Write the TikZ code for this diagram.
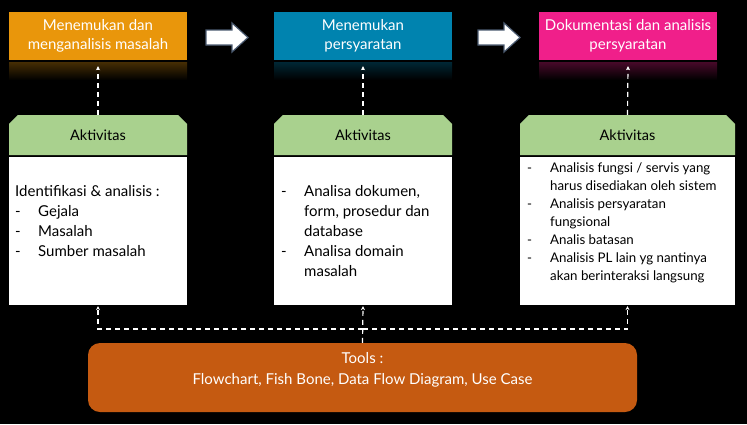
\documentclass[tikz,border=0pt]{standalone}
\usepackage{fontspec}
\setmainfont{Lato}
\usetikzlibrary{shapes.misc,arrows.meta}
\definecolor{cOrange}{HTML}{E9960B}
\definecolor{cBlue}{HTML}{0083AF}
\definecolor{cPink}{HTML}{F01F8A}
\definecolor{cGreen}{HTML}{A9D18E}
\definecolor{cTools}{HTML}{C55A11}
\definecolor{cArrowEdge}{HTML}{4A5A70}
\begin{document}
\begin{tikzpicture}[x=1pt,y=-1pt,
  topbox/.style={rectangle, minimum width=178pt, minimum height=48pt, inner sep=0pt,
    align=center, text=white, font=\fontsize{15}{18.5}\selectfont},
  acthead/.style={chamfered rectangle, chamfered rectangle corners={north west,north east},
    chamfered rectangle xsep=8pt, fill=cGreen, draw=none, inner sep=0pt,
    minimum height=40pt, font=\fontsize{14.5}{16}\selectfont, text=black},
  actbody/.style={rectangle, fill=white, draw=none, inner sep=0pt, minimum height=148pt},
  bodytext/.style={anchor=base west, inner sep=0pt, text=black, align=left},
  dasharrow/.style={draw=white, line width=1.2pt, dash pattern=on 5pt off 4pt,
    -{Stealth[length=4pt,width=4pt]}},
  blockarrow/.style={fill=white, draw=cArrowEdge, line width=1.2pt, line join=miter},
]
\fill[black] (0,0) rectangle (747,424);
\useasboundingbox (0,0) rectangle (747,424);

% reflections under the top boxes
\shade[top color=cOrange!30!black, bottom color=black] (9,62) rectangle (187,80);
\shade[top color=cBlue!30!black, bottom color=black] (274,62) rectangle (452,80);
\shade[top color=cPink!30!black, bottom color=black] (539,62) rectangle (717,80);

% top boxes
\node[topbox, fill=cOrange] (top1) at (98,36) {Menemukan dan\\menganalisis masalah};
\node[topbox, fill=cBlue] (top2) at (363,36) {Menemukan\\persyaratan};
\node[topbox, fill=cPink] (top3) at (628,36) {Dokumentasi dan analisis\\persyaratan};

% block arrows
\draw[blockarrow] (206,30) -- (232,30) -- (232,23) -- (248,37.5) -- (232,52) -- (232,45) -- (206,45) -- cycle;
\draw[blockarrow] (478,30) -- (504,30) -- (504,23) -- (520,37.5) -- (504,52) -- (504,45) -- (478,45) -- cycle;

% activity boxes
\node[acthead, minimum width=178pt] (act1) at (98,135) {Aktivitas};
\node[acthead, minimum width=178pt] (act2) at (363,135) {Aktivitas};
\node[acthead, minimum width=215pt] (act3) at (627.5,135) {Aktivitas};
\node[actbody, minimum width=178pt, anchor=north] (body1) at ([yshift=-1.5pt]act1.south) {};
\node[actbody, minimum width=178pt, anchor=north] (body2) at ([yshift=-1.5pt]act2.south) {};
\node[actbody, minimum width=215pt, anchor=north] (body3) at ([yshift=-1.5pt]act3.south) {};

\node[bodytext] (txt1) at (15,196) {\fontsize{15}{20}\selectfont
  \begin{tabular}[t]{@{}p{23pt}@{}l@{}}
  \multicolumn{2}{@{}l@{}}{Identifikasi \& analisis :}\\
  - & Gejala\\
  - & Masalah\\
  - & Sumber masalah
  \end{tabular}};
\node[bodytext] (txt2) at (281,196) {\fontsize{15}{20}\selectfont
  \begin{tabular}[t]{@{}p{23pt}@{}l@{}}
  - & Analisa dokumen,\\
    & form, prosedur dan\\
    & database\\
  - & Analisa domain\\
    & masalah
  \end{tabular}};
\node[bodytext] (txt3) at (527,172) {\fontsize{13.3}{18}\selectfont
  \begin{tabular}[t]{@{}p{23pt}@{}l@{}}
  - & Analisis fungsi / servis yang\\
    & harus disediakan oleh sistem\\
  - & Analisis persyaratan\\
    & fungsional\\
  - & Analis batasan\\
  - & Analisis PL lain yg nantinya\\
    & akan berinteraksi langsung
  \end{tabular}};

% tools box
\node[rectangle, rounded corners=12pt, fill=cTools, minimum width=549pt, minimum height=69pt,
  inner sep=0pt] (tools) at (362.5,377.5) {};
\node[text=white, align=center, inner sep=0pt, font=\fontsize{15}{21}\selectfont]
  (toolstext) at (362.5,370) {Tools :\\Flowchart, Fish Bone, Data Flow Diagram, Use Case};

% dashed connectors up to the top boxes
\draw[dasharrow] (act1.north) -- ([yshift=-6pt]top1.south);
\draw[dasharrow] (act2.north) -- ([yshift=-6pt]top2.south);
\draw[dasharrow] (act3.north) -- ([yshift=-6pt]top3.south);

% dashed connectors from tools
\coordinate (hub) at (363,329);
\draw[dasharrow] (tools.north) -- ([yshift=-1pt]body2.south);
\draw[dasharrow] (hub) -| ([yshift=-1pt]body1.south);
\draw[dasharrow] (hub) -| ([yshift=-1pt]body3.south);
\end{tikzpicture}
\end{document}
